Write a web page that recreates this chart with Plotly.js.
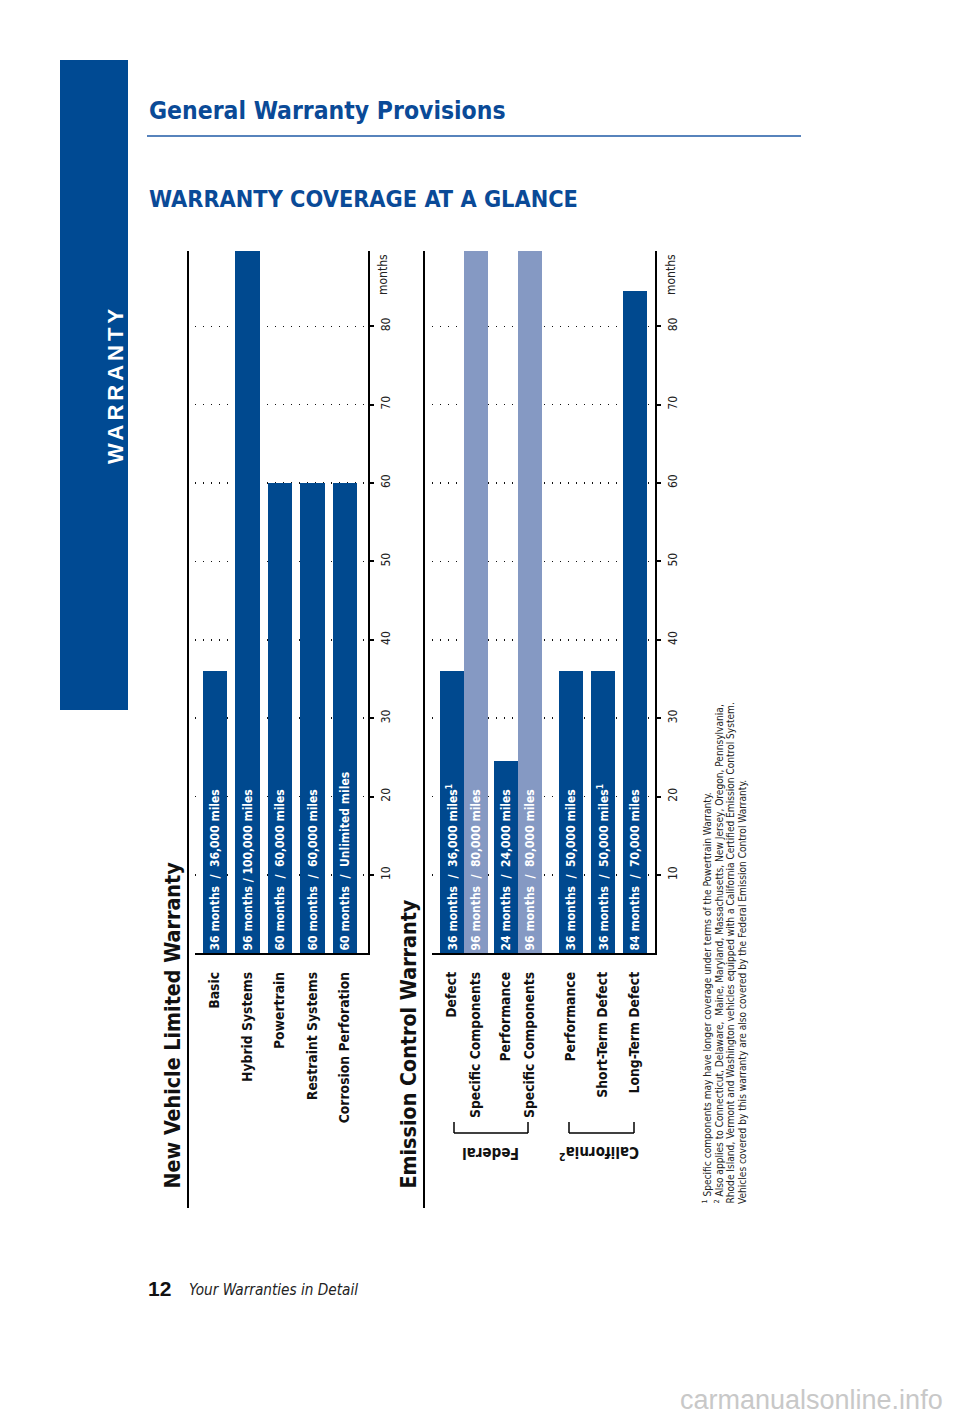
<!DOCTYPE html>
<html>
<head>
<meta charset="utf-8">
<script src="https://cdn.plot.ly/plotly-3.0.1.min.js"></script>
<style>
  html, body { margin: 0; padding: 0; background: #ffffff; }
  #chart { width: 960px; height: 1418px; }
</style>
</head>
<body>
<div id="chart"></div>
<script>
// ---------------- DATA ----------------
const nvCategories = ['Basic', 'Hybrid Systems', 'Powertrain', 'Restraint Systems', 'Corrosion Perforation'];
const nvMonths = [36, 96, 60, 60, 60];
const nvLabels = [
  '36 months\u00a0 / \u00a036,000 miles',
  '96 months / 100,000 miles',
  '60 months\u00a0 / \u00a060,000 miles',
  '60 months\u00a0 / \u00a060,000 miles',
  '60 months\u00a0 / \u00a0Unlimited miles'
];

const emCategories = ['Defect', 'Specific Components', 'Performance', 'Specific Components', 'Performance', 'Short-Term Defect', 'Long-Term Defect'];
const emGroups = ['Federal', 'Federal', 'Federal', 'Federal', 'California', 'California', 'California'];
const emMonths = [36, 96, 24.6, 96, 36, 36, 84.5];
const emLabels = [
  '36 months\u00a0 / \u00a036,000 miles<sup>1</sup>',
  '96 months\u00a0 / \u00a080,000 miles',
  '24 months\u00a0 / \u00a024,000 miles',
  '96 months\u00a0 / \u00a080,000 miles',
  '36 months\u00a0 / \u00a050,000 miles',
  '36 months\u00a0 / \u00a050,000 miles<sup>1</sup>',
  '84 months\u00a0 / \u00a070,000 miles'
];

const monthTicks = [10, 20, 30, 40, 50, 60, 70, 80];

// ---------------- LAYOUT HELPERS ----------------
const W = 960, H = 1418;
const px = x => x / W;
const py = y => 1 - y / H;

const NARROW = '"DejaVu Sans Condensed", "Liberation Sans Narrow", "Arial Narrow", sans-serif';
const DARK = '#00498f';
const LIGHT = '#8599c3';
const TITLEBLUE = '#0a4a97';

// slot positions (layout only)
const nvSlots = nvCategories.map((_, i) => i);
const emSlots = [0, 0.75, 1.6875, 2.4375, 3.71875, 4.71875, 5.71875];

const emColors = emCategories.map(c => c === 'Specific Components' ? LIGHT : DARK);

const barText = {family: NARROW, size: 12, color: '#ffffff', weight: 700};

const traces = [
  {
    type: 'bar', x: nvSlots, y: nvMonths, xaxis: 'x', yaxis: 'y',
    width: 0.74, marker: {color: DARK, line: {width: 0}},
    text: nvLabels, textposition: 'inside', insidetextanchor: 'start',
    textangle: -90, constraintext: 'none', textfont: barText,
    hoverinfo: 'skip', showlegend: false
  },
  {
    type: 'bar', x: emSlots, y: emMonths, xaxis: 'x2', yaxis: 'y2',
    width: 0.75, marker: {color: emColors, line: {width: 0}},
    text: emLabels, textposition: 'inside', insidetextanchor: 'start',
    textangle: -90, constraintext: 'none', textfont: barText,
    customdata: emGroups,
    hoverinfo: 'skip', showlegend: false
  }
];

const yDomain = [py(953.4), py(251)];
const catFont = {family: NARROW, size: 13.8, color: '#111111', weight: 700};
const tickFont = {family: NARROW, size: 12, color: '#222222'};

function valueAxis(anchor) {
  return {
    domain: yDomain, anchor: anchor, side: 'right', range: [0, 89.6],
    showline: true, linecolor: '#000', linewidth: 2,
    ticks: 'outside', ticklen: 4, tickwidth: 2, tickcolor: '#000',
    tickvals: monthTicks, ticktext: monthTicks.map(String),
    tickangle: -90, tickfont: tickFont, ticklabelstandoff: 2,
    showgrid: true, gridcolor: '#111', gridwidth: 1.5, griddash: '1px,7px',
    zeroline: false, fixedrange: true
  };
}
function catAxis(domain, range, slots, cats) {
  return {
    domain: domain, range: range, anchor: null,
    showline: true, linecolor: '#000', linewidth: 2,
    ticks: '', tickvals: slots, ticktext: cats,
    tickangle: -90, tickfont: catFont, ticklabelstandoff: 11,
    showgrid: false, zeroline: false, fixedrange: true
  };
}

const xa1 = catAxis([px(195), px(368)], [-0.6154, 4.7077], nvSlots, nvCategories);
xa1.anchor = 'y';
const xa2 = catAxis([px(432), px(655)], [-0.625, 6.34375], emSlots, emCategories);
xa2.anchor = 'y2';

function line(x0, y0, x1, y1, color, width) {
  return {type: 'line', xref: 'paper', yref: 'paper', x0: px(x0), y0: py(y0), x1: px(x1), y1: py(y1),
          line: {color: color, width: width}};
}

const shapes = [
  // sidebar
  {type: 'rect', xref: 'paper', yref: 'paper', x0: px(60), x1: px(128), y0: py(710), y1: py(60),
   fillcolor: '#004a93', line: {width: 0}, layer: 'below'},
  // header rule
  line(147, 136, 801, 136, '#1f5aa6', 1.5),
  // panel separators
  line(188, 251, 188, 1208, '#000', 2),
  line(424, 251, 424, 1208, '#000', 2),
  // Federal bracket
  line(454, 1122, 454, 1133, '#000', 1.5),
  line(454, 1133, 528, 1133, '#000', 1.5),
  line(528, 1133, 528, 1122, '#000', 1.5),
  // California bracket
  line(569, 1122, 569, 1133, '#000', 1.5),
  line(569, 1133, 634, 1133, '#000', 1.5),
  line(634, 1133, 634, 1122, '#000', 1.5)
];

function ann(text, x, y, opts) {
  return Object.assign({text: text, xref: 'paper', yref: 'paper', x: px(x), y: py(y),
    showarrow: false, xanchor: 'center', yanchor: 'middle'}, opts);
}

const footFont = {family: NARROW, size: 10.1, color: '#222'};
const annotations = [
  ann('WARRANTY', 115, 385, {textangle: -90,
      font: {family: '"Liberation Sans", Arial, sans-serif', size: 22, color: '#ffffff', weight: 700}}),
  ann('General Warranty Provisions', 147, 111, {xanchor: 'left',
      font: {family: NARROW, size: 24.5, color: TITLEBLUE, weight: 700}}),
  ann('WARRANTY COVERAGE AT A GLANCE', 147, 198, {xanchor: 'left',
      font: {family: NARROW, size: 23.3, color: TITLEBLUE, weight: 700}}),
  ann('New Vehicle Limited Warranty', 172, 1191, {textangle: -90, yanchor: 'bottom',
      font: {family: NARROW, size: 21.3, color: '#111', weight: 700}}),
  ann('Emission Control Warranty', 408, 1191, {textangle: -90, yanchor: 'bottom',
      font: {family: NARROW, size: 21.3, color: '#111', weight: 700}}),
  ann('months', 383, 275, {textangle: -90, font: tickFont}),
  ann('months', 671, 275, {textangle: -90, font: tickFont}),
  ann('Federal', 491, 1153, {textangle: 180, font: {family: NARROW, size: 15, color: '#111', weight: 700}}),
  ann('California<sup>2</sup>', 599, 1153, {textangle: 180, font: {family: NARROW, size: 15, color: '#111', weight: 700}}),
  ann('<sup>1</sup> Specific components may have longer coverage under terms of the Powertrain Warranty.', 706, 1206,
      {textangle: -90, yanchor: 'bottom', font: footFont}),
  ann('<sup>2</sup> Also applies to Connecticut, Delaware,\u00a0 Maine, Maryland, Massachusetts, New Jersey, Oregon, Pennsylvania,', 718, 1206,
      {textangle: -90, yanchor: 'bottom', font: footFont}),
  ann('Rhode Island, Vermont and Washington vehicles equipped with a California Certified Emission Control System.', 730, 1206,
      {textangle: -90, yanchor: 'bottom', font: footFont}),
  ann('Vehicles covered by this warranty are also covered by the Federal Emission Control Warranty.', 742, 1206,
      {textangle: -90, yanchor: 'bottom', font: footFont}),
  ann('12', 146, 1288, {xanchor: 'left', font: {family: '"Liberation Sans", Arial, sans-serif', size: 21, color: '#111', weight: 700}}),
  ann('Your Warranties in Detail', 187, 1290, {xanchor: 'left', font: {family: NARROW, size: 15.2, color: '#222', style: 'italic'}}),
  ann('carmanualsonline.info', 945, 1400, {xanchor: 'right', font: {family: '"Liberation Sans", Arial, sans-serif', size: 27, color: '#c8c8c8'}})
];

const layout = {
  width: W, height: H, margin: {l: 0, r: 0, t: 0, b: 0},
  paper_bgcolor: '#ffffff', plot_bgcolor: 'rgba(0,0,0,0)',
  showlegend: false, bargap: 0,
  xaxis: xa1, yaxis: valueAxis('x'),
  xaxis2: xa2, yaxis2: valueAxis('x2'),
  shapes: shapes, annotations: annotations
};

Plotly.newPlot('chart', traces, layout, {staticPlot: true, displayModeBar: false});
</script>
<style>
  .annotation[data-index="0"] .annotation-text { letter-spacing: 4px; }
</style>
</body>
</html>
